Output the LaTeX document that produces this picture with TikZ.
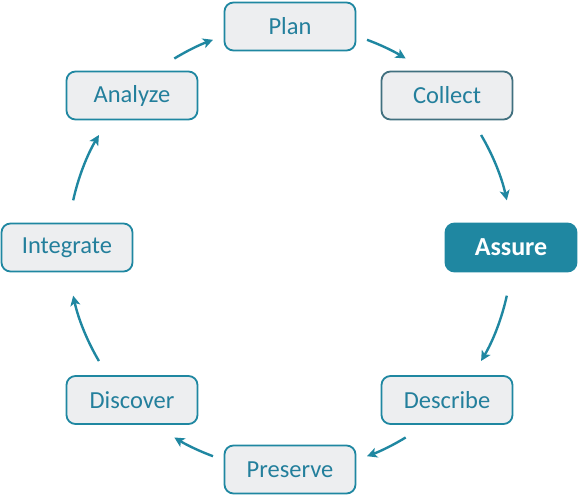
\documentclass[tikz,border=0pt]{standalone}
\usepackage{fontspec}
\setmainfont{Carlito}
\usetikzlibrary{arrows.meta}
\definecolor{teal1}{HTML}{1F87A1}
\definecolor{tealtxt}{HTML}{237F9C}
\definecolor{boxfill}{HTML}{EDEEF0}
\definecolor{darkedge}{HTML}{41707F}
\tikzset{
  stage/.style={draw=teal1, line width=1.8pt, fill=boxfill, rounded corners=9pt,
    minimum width=131pt, minimum height=48pt, inner sep=0pt,
    font=\fontsize{24.5}{26}\selectfont, text=tealtxt},
  current/.style={stage, draw=teal1, fill=teal1, text=white, font=\fontsize{26}{28}\selectfont\bfseries},
  arr/.style={draw=teal1, line width=2.4pt, -{Stealth[length=10pt,width=10pt,inset=2.5pt]}}
}
\begin{document}
\begin{tikzpicture}[x=1pt,y=-1pt]
\useasboundingbox (0,0) rectangle (580,497);
\coordinate (O) at (290,248);
\node[stage] (plan) at (290,26.5) {Plan};
\node[stage, draw=darkedge] (collect) at (447,95.5) {Collect};
\node[current] (assure) at (511,247.5) {Assure};
\node[stage] (describe) at (447,400) {Describe};
\node[stage] (preserve) at (290,469.5) {Preserve};
\node[stage] (discover) at (132,400) {Discover};
\node[stage] (integrate) at (67,247.5) {Integrate};
\node[stage] (analyze) at (132,95.5) {Analyze};
\def\R{222}
\draw[arr] ([shift={(-69.7:\R)}]O) arc[start angle=-69.7, end angle=-58.6, radius=\R];
\draw[arr] ([shift={(-30.6:\R)}]O) arc[start angle=-30.6, end angle=-12.4, radius=\R];
\draw[arr] ([shift={(12.4:\R)}]O) arc[start angle=12.4, end angle=30.6, radius=\R];
\draw[arr] ([shift={(58.6:\R)}]O) arc[start angle=58.6, end angle=69.7, radius=\R];
\draw[arr] ([shift={(110.3:\R)}]O) arc[start angle=110.3, end angle=121.4, radius=\R];
\draw[arr] ([shift={(149.4:\R)}]O) arc[start angle=149.4, end angle=167.6, radius=\R];
\draw[arr] ([shift={(192.4:\R)}]O) arc[start angle=192.4, end angle=210.6, radius=\R];
\draw[arr] ([shift={(238.6:\R)}]O) arc[start angle=238.6, end angle=249.7, radius=\R];
\end{tikzpicture}
\end{document}
